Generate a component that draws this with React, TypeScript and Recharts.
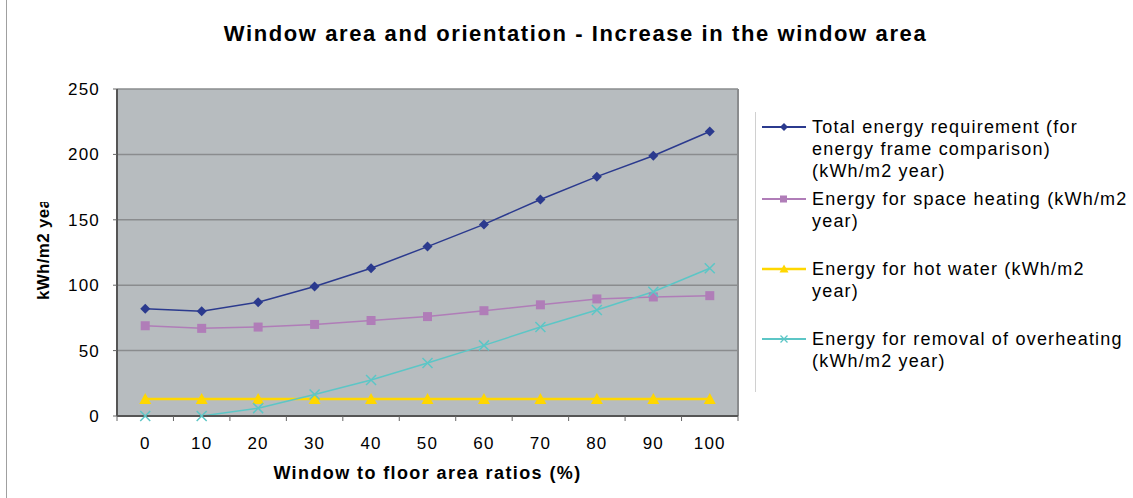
import React from 'react';
import { ComposedChart, Line, XAxis, YAxis, CartesianGrid, Legend, ReferenceLine } from 'recharts';

const ratios = [0, 10, 20, 30, 40, 50, 60, 70, 80, 90, 100];
const totalEnergy = [82, 80, 87, 99, 113, 129.5, 146.5, 165.5, 183, 199, 217.5];
const spaceHeating = [69, 67, 68, 70, 73, 76, 80.5, 85, 89.5, 91, 92];
const hotWater = [13, 13, 13, 13, 13, 13, 13, 13, 13, 13, 13];
const overheating = [0, 0, 6, 16.5, 27.5, 40.5, 54, 68, 81, 95, 113];
const yTicks = [0, 50, 100, 150, 200, 250];
const xBoundaryTicks = [-5, 5, 15, 25, 35, 45, 55, 65, 75, 85, 95, 105];

const seriesNames = {
  total: 'Total energy requirement (for energy frame comparison) (kWh/m2 year)',
  space: 'Energy for space heating (kWh/m2 year)',
  hot: 'Energy for hot water (kWh/m2 year)',
  over: 'Energy for removal of overheating (kWh/m2 year)',
};
const legendLines: Record<string, string[]> = {
  total: ['Total energy requirement (for', 'energy frame comparison)', '(kWh/m2 year)'],
  space: ['Energy for space heating (kWh/m2', 'year)'],
  hot: ['Energy for hot water (kWh/m2', 'year)'],
  over: ['Energy for removal of overheating', '(kWh/m2 year)'],
};

const data = ratios.map((r, i) => ({
  ratio: r,
  total: totalEnergy[i],
  space: spaceHeating[i],
  hot: hotWater[i],
  over: overheating[i],
}));

const allXTicks = [...xBoundaryTicks, ...ratios].sort((a, b) => a - b);
const boundarySet = new Set(xBoundaryTicks);

const C_TOTAL = '#2B3A8E';
const C_SPACE = '#B07DB8';
const C_HOT = '#FFD700';
const C_OVER = '#5CC6C6';
const FONT = '"Liberation Sans", Arial, sans-serif';

const Diamond = (p: any) => {
  const { cx, cy, key } = p;
  if (cx == null || cy == null) return <g key={key} />;
  return <path key={key} d={`M${cx},${cy - 5} L${cx + 5},${cy} L${cx},${cy + 5} L${cx - 5},${cy} Z`} fill={C_TOTAL} />;
};
const Square = (p: any) => {
  const { cx, cy, key } = p;
  if (cx == null || cy == null) return <g key={key} />;
  return <rect key={key} x={cx - 4.5} y={cy - 4.5} width={9} height={9} fill={C_SPACE} />;
};
const Triangle = (p: any) => {
  const { cx, cy, key } = p;
  if (cx == null || cy == null) return <g key={key} />;
  return <path key={key} d={`M${cx},${cy - 6} L${cx + 6},${cy + 5} L${cx - 6},${cy + 5} Z`} fill={C_HOT} />;
};
const Cross = (p: any) => {
  const { cx, cy, key } = p;
  if (cx == null || cy == null) return <g key={key} />;
  return (
    <path key={key} d={`M${cx - 5},${cy - 5} L${cx + 5},${cy + 5} M${cx + 5},${cy - 5} L${cx - 5},${cy + 5}`} stroke={C_OVER} strokeWidth={1.5} />
  );
};

const XTick = (props: any) => {
  const { x, y, payload } = props;
  const v = payload?.value;
  if (boundarySet.has(v)) {
    return <line x1={x} y1={y} x2={x} y2={y + 5} stroke="#666" strokeWidth={1} />;
  }
  return (
    <text x={x} y={y + 21} dy="0.71em" textAnchor="middle" fontFamily={FONT} fontSize={17} fill="#000" letterSpacing={1.2}>
      {v}
    </text>
  );
};

const legendIcon = (key: string, color: string) => {
  const marker =
    key === 'total' ? <path d="M22,1 L26,5 L22,9 L18,5 Z" fill={color} /> :
    key === 'space' ? <rect x={18} y={1.5} width={7} height={7} fill={color} /> :
    key === 'hot' ? <path d="M22,0.5 L26.5,8.5 L17.5,8.5 Z" fill={color} /> :
    <path d="M18.5,1.5 L25.5,8.5 M25.5,1.5 L18.5,8.5" stroke={color} strokeWidth={1.3} />;
  return (
    <svg width={44} height={10} style={{ position: 'absolute', left: 7, top: 6 }}>
      <line x1={0} y1={5} x2={44} y2={5} stroke={color} strokeWidth={key === 'hot' ? 2.5 : 2} />
      {marker}
    </svg>
  );
};

const itemTops: Record<string, number> = { total: 0, space: 72, hot: 142, over: 212 };

const renderLegend = (props: any) => {
  const payload = props.payload || [];
  return (
    <div style={{ position: 'absolute', left: 0, top: 0, width: 0, height: 0 }}>
      <div style={{ position: 'absolute', left: 0, top: 0, width: 1, height: 280, background: '#D0D0D0' }} />
      {payload.map((e: any) => {
        const k = e.dataKey as string;
        return (
          <div key={k} style={{ position: 'absolute', left: 0, top: itemTops[k] + 4, width: 380 }}>
            {legendIcon(k, e.color)}
            <div style={{ position: 'absolute', left: 57, top: 0, fontFamily: FONT, fontSize: 18, lineHeight: '22px', color: '#000', whiteSpace: 'nowrap', letterSpacing: 1.2 }}>
              {legendLines[k].map((l, i) => <div key={i}>{l}</div>)}
            </div>
          </div>
        );
      })}
    </div>
  );
};

const YLabel = () => {
  return (
    <g>
      <defs>
        <clipPath id="ylabClip">
          <rect x={0} y={202} width={100} height={296} />
        </clipPath>
      </defs>
      <g clipPath="url(#ylabClip)">
        <text x={0} y={0} transform="translate(49,300) rotate(-90)" textAnchor="start" fontFamily={FONT} fontSize={17} fontWeight="bold" fill="#000" letterSpacing={0.3}>
          kWh/m2 year
        </text>
      </g>
    </g>
  );
};

export default function App() {
  return (
    <div style={{ position: 'absolute', left: 0, top: 0, width: 1133, height: 498, background: '#fff' }}>
      <div style={{ position: 'absolute', left: 6, top: 0, width: 1, height: 498, background: '#A0A0A0' }} />
      <div style={{ position: 'absolute', left: 0, top: 21, width: 1151, textAlign: 'center', fontFamily: FONT, fontSize: 22, fontWeight: 'bold', letterSpacing: 1.6 }}>
        Window area and orientation - Increase in the window area
      </div>
      <ComposedChart width={1133} height={498} data={data} margin={{ top: 89, right: 395, bottom: 30, left: 57 }} style={{ position: 'absolute', left: 0, top: 0 }}>
        <CartesianGrid vertical={false} horizontal={true} stroke="#8A8C8E" strokeWidth={1.5} fill="#B7BCBF" horizontalValues={yTicks} />
        <XAxis dataKey="ratio" type="number" domain={[-5, 105]} ticks={allXTicks} interval={0} tickLine={false} tickSize={0} tickMargin={0}
          axisLine={{ stroke: '#555', strokeWidth: 2 }} height={52} tick={<XTick />} />
        <YAxis domain={[0, 250]} ticks={yTicks} width={60} axisLine={{ stroke: '#555', strokeWidth: 2 }} tickLine={{ stroke: '#666' }} tickSize={4} tickMargin={13}
          tick={{ fontFamily: FONT, fontSize: 17, fill: '#000', letterSpacing: 1.2 }} label={<YLabel />} />
        <ReferenceLine x={105} stroke="#8A8C8E" strokeWidth={2} />
        <Line dataKey="total" name={seriesNames.total} stroke={C_TOTAL} strokeWidth={1.5} dot={Diamond} isAnimationActive={false} />
        <Line dataKey="space" name={seriesNames.space} stroke={C_SPACE} strokeWidth={1.5} dot={Square} isAnimationActive={false} />
        <Line dataKey="hot" name={seriesNames.hot} stroke={C_HOT} strokeWidth={2.5} dot={Triangle} isAnimationActive={false} />
        <Line dataKey="over" name={seriesNames.over} stroke={C_OVER} strokeWidth={1.5} dot={Cross} isAnimationActive={false} />
        <Legend content={renderLegend} wrapperStyle={{ position: 'absolute', left: 755, top: 112, width: 0, height: 0 }} />
      </ComposedChart>
      <div style={{ position: 'absolute', left: 117, top: 463, width: 621, textAlign: 'center', fontFamily: FONT, fontSize: 18, fontWeight: 'bold', letterSpacing: 1.4 }}>
        Window to floor area ratios (%)
      </div>
    </div>
  );
}
